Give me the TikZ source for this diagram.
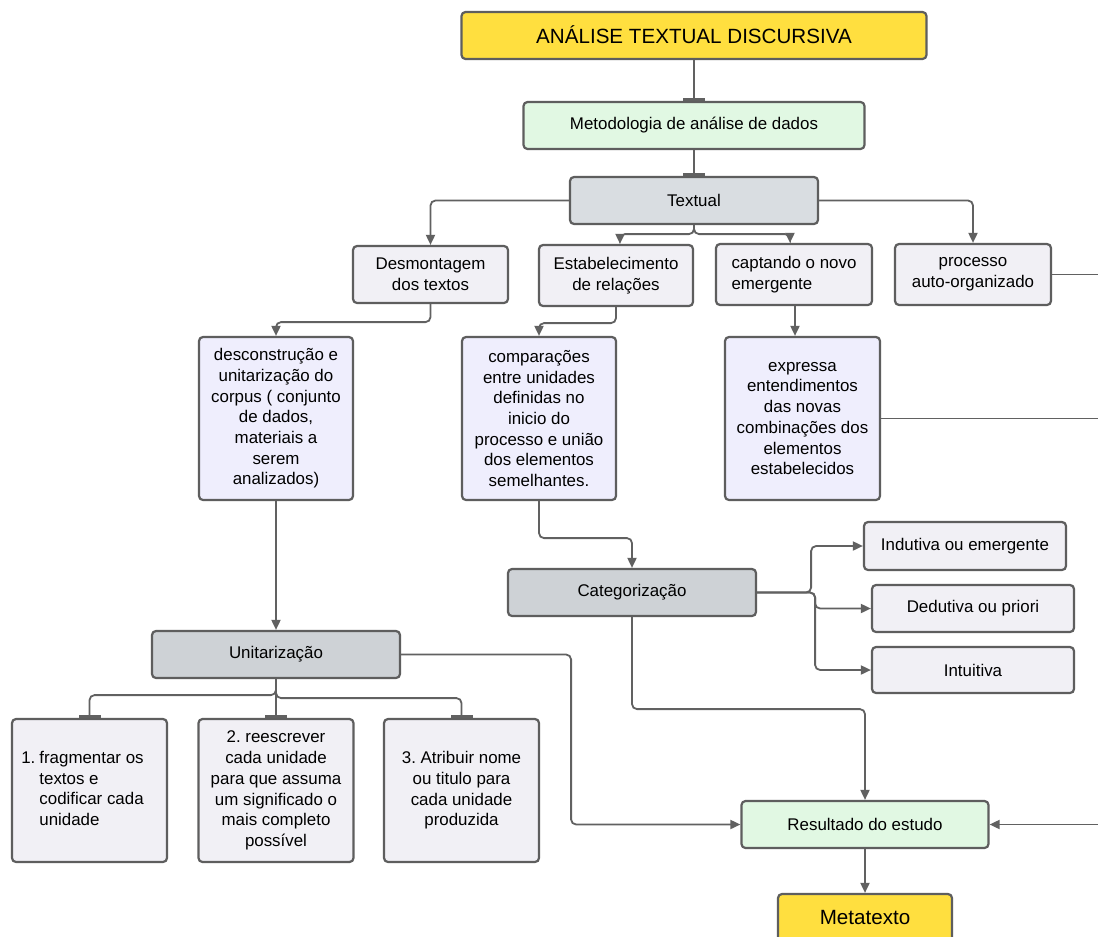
\documentclass[tikz,border=0pt]{standalone}
\usepackage{fontspec}
\setmainfont{Liberation Sans}
\usetikzlibrary{arrows.meta}
\definecolor{bordc}{HTML}{5E5E5E}
\definecolor{linec}{HTML}{616161}
\definecolor{yel}{HTML}{FFDF3F}
\definecolor{grn}{HTML}{E1F8E3}
\definecolor{gryA}{HTML}{D9DDE1}
\definecolor{gryB}{HTML}{CED2D6}
\definecolor{lgt}{HTML}{F1F0F5}
\definecolor{lav}{HTML}{EFEEFD}
\frenchspacing
\begin{document}
\begin{tikzpicture}[x=1pt,y=-1pt,
  box/.style={draw=bordc, line width=2.2pt, rounded corners=4pt, inner sep=0pt,
    align=center, font=\fontsize{16.9}{20.7}\selectfont\frenchspacing, text=black},
  bigbox/.style={box, font=\fontsize{20.6}{24}\selectfont, text depth=2pt},
  conn/.style={draw=linec, line width=1.8pt, rounded corners=5pt},
  arr/.style={conn, -{Triangle[length=10pt,width=9pt]}},
  tee/.style={conn, -{Bar[width=22pt,line width=3pt]}}
]
\clip (0,0) rectangle (1098,937);
\fill[white] (0,0) rectangle (1098,937);

% nodes
\node[bigbox, fill=yel, minimum width=465, minimum height=47] (title) at (694,35.5) {ANÁLISE TEXTUAL DISCURSIVA};
\node[box, fill=grn, minimum width=341, minimum height=47] (metod) at (694,125.5) {Metodologia de análise de dados};
\node[box, fill=gryA, minimum width=248, minimum height=47] (textual) at (694,200.5) {Textual};

\node[box, fill=lgt, minimum width=155, minimum height=57] (desm) at (430.5,274.5) {Desmontagem\\dos textos};
\node[box, fill=lgt, minimum width=154, minimum height=61] (estab) at (616,275.5) {Estabelecimento\\de relações};
\node[box, fill=lgt, minimum width=156, minimum height=61, align=left] (capt) at (794,274.5) {captando o novo\\emergente};
\node[box, fill=lgt, minimum width=156, minimum height=61] (proc) at (973,274.5) {processo\\auto-organizado};

\node[box, fill=lav, minimum width=154, minimum height=163] (desc) at (276,418.5) {desconstrução e\\unitarização do\\corpus ( conjunto\\de dados,\\materiais a\\serem\\analizados)};
\node[box, fill=lav, minimum width=154, minimum height=163] (comp) at (539,418.5) {comparações\\entre unidades\\definidas no\\inicio do\\processo e união\\dos elementos\\semelhantes.};
\node[box, fill=lav, minimum width=155, minimum height=163] (expr) at (802.5,418.5) {expressa\\entendimentos\\das novas\\combinações dos\\elementos\\estabelecidos};

\node[box, fill=gryB, minimum width=248, minimum height=47] (cat) at (632,592.5) {Categorização};
\node[box, fill=lgt, minimum width=202, minimum height=48] (indu) at (965,546) {Indutiva ou emergente};
\node[box, fill=lgt, minimum width=202, minimum height=47] (dedu) at (973,608.5) {Dedutiva ou priori};
\node[box, fill=lgt, minimum width=202, minimum height=46] (intu) at (973,670) {Intuitiva};

\node[box, fill=gryB, minimum width=248, minimum height=47] (unit) at (276,654.5) {Unitarização};
\node[box, fill=lgt, minimum width=155, minimum height=143] (u1) at (89.5,790.5) {\begin{tabular}{@{}l@{\hspace{4pt}}l@{}}1.&fragmentar os\\&textos e\\&codificar cada\\&unidade\end{tabular}\hspace*{14pt}};
\node[box, fill=lgt, minimum width=155, minimum height=143] (u2) at (276,790.5) {2. reescrever\\cada unidade\\para que assuma\\um significado o\\mais completo\\possível};
\node[box, fill=lgt, minimum width=155, minimum height=143] (u3) at (461.5,790.5) {3. Atribuir nome\\ou titulo para\\cada unidade\\produzida};

\node[box, fill=grn, minimum width=247, minimum height=47] (res) at (865,824.5) {Resultado do estudo};
\node[bigbox, fill=yel, minimum width=174, minimum height=48] (meta) at (865,918) {Metatexto};

% free ends at the right edge
\coordinate (rA) at (1100,274.5);
\coordinate (rB) at (1100,418.5);
\coordinate (rC) at (1100,824.5);

% connectors
\draw[tee] (title) -- (metod);
\draw[tee] (metod) -- (textual);
\draw[arr] (textual.west) -| (desm.north);
\draw[arr] (textual.east) -| (proc.north);
\draw[arr] (textual.south) -- ++(0,9) -| ([xshift=4pt]estab.north);
\draw[arr] (textual.south) -- ++(0,9) -| ([xshift=-4pt]capt.north);

\draw[arr] (desm.south) -- ++(0,18) -| (desc.north);
\draw[arr] (estab.south) -- ++(0,16) -| (comp.north);
\draw[arr] ([xshift=1pt]capt.south) -- ([xshift=1pt]capt.south |- expr.north);
\draw[conn] (proc.east) -- (rA);
\draw[conn] (expr.east) -- (rB);

\draw[arr] (desc) -- (unit);
\draw[arr] (comp.south) -- ++(0,37) -| (cat.north);

\draw[arr] (cat.east) -- ++(54,0) |- (indu.west);
\draw[arr] (cat.east) -- ++(58,0) |- (dedu.west);
\draw[arr] (cat.east) -- ++(58,0) |- (intu.west);
\draw[arr] (cat.south) -- ++(0,92) -| (res.north);

\draw[tee] (unit.south) -- ++(0,16) -| (u1.north);
\draw[tee] (unit.south) -- (u2.north);
\draw[tee] (unit.south) -- ++(0,19) -| (u3.north);
\draw[arr] (unit.east) -- ++(170,0) |- (res.west);

\draw[arr] (rC) -- (res.east);
\draw[arr] (res) -- (meta);
\end{tikzpicture}
\end{document}
